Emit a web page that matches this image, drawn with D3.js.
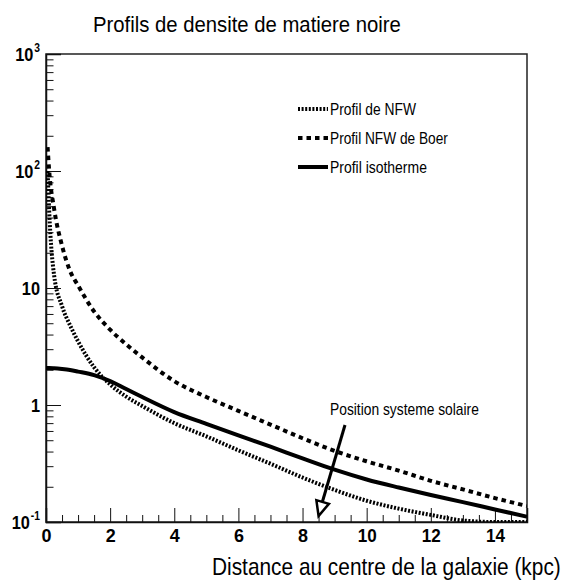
<!DOCTYPE html>
<html>
<head>
<meta charset="utf-8">
<script src="https://cdn.jsdelivr.net/npm/d3@7"></script>
<style>
	body { margin: 0; background: #fff; }
	svg { display: block; }
	text { font-family: "Liberation Sans", Arial, sans-serif; fill: #000; }
	.axis path, .axis line { stroke: #111; }
	.axis text, .ylab text { font-weight: bold; font-size: 19px; }
</style>
</head>
<body>
<svg id="chart"></svg>
<script>
// distance au centre (kpc)
var radius = [0, 0.05, 0.1, 0.25, 0.5, 0.75, 1, 1.5, 2, 2.5, 3, 4, 5, 6, 7, 8, 9, 10, 11, 12, 13, 14, 15];

// densites
var nfwDensity = [null, 100, 45, 13, 7, 4.8, 3.5, 2.1, 1.5, 1.18, 0.98, 0.7, 0.54, 0.41, 0.315, 0.24, 0.188, 0.152, 0.13, 0.115, 0.103, 0.1, 0.1];
var boerDensity = [null, 160, 100, 48, 23, 14, 10.5, 6.3, 4.4, 3.3, 2.55, 1.6, 1.17, 0.89, 0.68, 0.52, 0.405, 0.33, 0.275, 0.225, 0.19, 0.16, 0.137];
var isoDensity = [2.07, 2.07, 2.07, 2.06, 2.03, 1.99, 1.93, 1.8, 1.6, 1.37, 1.17, 0.87, 0.69, 0.55, 0.44, 0.35, 0.28, 0.231, 0.197, 0.17, 0.148, 0.128, 0.111];

var seriesNames = ["Profil de NFW", "Profil NFW de Boer", "Profil isotherme"];

var xMajorTicks = [0, 2, 4, 6, 8, 10, 12, 14];
var yMajorTicks = [0.1, 1, 10, 100, 1000];

var chartTitle = "Profils de densite de matiere noire";
var xTitle = "Distance au centre de la galaxie (kpc)";
var note = { text: "Position systeme solaire", r: 8.5 };

var width = 564, height = 583;
var margin = {top: 54, right: 37, bottom: 61, left: 46};

var svg = d3.select("#chart")
	.attr("width", width)
	.attr("height", height);

var x = d3.scaleLinear().domain([0, 15]).range([margin.left, width - margin.right]);
var y = d3.scaleLog().domain([0.1, 1000]).range([height - margin.bottom, margin.top]);

var styles = [
	{dash: "2,1.6", width: 4},
	{dash: "4.5,4", width: 4},
	{dash: null, width: 4}
];
var legendWidths = [86, 118, 97];
var series = [nfwDensity, boerDensity, isoDensity];

// narrow text: squeeze Liberation Sans horizontally to the measured width
function narrowText(sel, w) {
	var node = sel.node();
	var sx = w / node.getComputedTextLength();
	var tx = +sel.attr("x") || 0, ty = +sel.attr("y") || 0;
	sel.attr("x", 0).attr("y", 0)
		.attr("transform", "translate(" + tx + "," + ty + ") scale(" + sx + ",1)");
}

// Frame
svg.append("rect")
	.attr("x", x(0))
	.attr("y", y(1000))
	.attr("width", x(15) - x(0))
	.attr("height", y(0.1) - y(1000))
	.attr("fill", "none")
	.attr("stroke", "#222")
	.attr("stroke-width", 1.5);

// Minor ticks
var xMinor = d3.range(0.5, 15, 0.5).filter(function(d) { return d % 2 !== 0; });
svg.append("g")
	.attr("class", "axis")
	.attr("transform", "translate(0," + y(0.1) + ")")
	.call(d3.axisBottom(x).tickValues(xMinor).tickSize(-7).tickFormat(""))
	.call(function(g) { g.select(".domain").remove(); });

var yMinor = [];
[0.1, 1, 10, 100].forEach(function(p) {
	for (var k = 2; k < 10; k++) yMinor.push(p * k);
});
svg.append("g")
	.attr("class", "axis")
	.attr("transform", "translate(" + x(0) + ",0)")
	.call(d3.axisLeft(y).tickValues(yMinor).tickSize(-7.5).tickFormat(""))
	.call(function(g) { g.select(".domain").remove(); });

// Major ticks + labels
var xAxis = svg.append("g")
	.attr("class", "axis")
	.attr("transform", "translate(0," + y(0.1) + ")")
	.call(d3.axisBottom(x).tickValues(xMajorTicks).tickSize(-14).tickPadding(7).tickFormat(d3.format("d")))
	.call(function(g) { g.select(".domain").attr("stroke-width", 1.5); });
xAxis.selectAll(".tick text").each(function(d) {
	var t = d3.select(this);
	t.attr("transform", "scale(" + ((d >= 10 ? 19 : 10) / this.getComputedTextLength()) + ",1)");
});

svg.append("g")
	.attr("class", "axis")
	.attr("transform", "translate(" + x(0) + ",0)")
	.call(d3.axisLeft(y).tickValues(yMajorTicks).tickSize(-15).tickFormat(""))
	.call(function(g) {
		g.select(".domain").attr("stroke-width", 1.5);
		g.selectAll(".tick text").remove();
	});

// y labels: 10 with exponent, squeezed
var sqY = 0.86;
yMajorTicks.forEach(function(d) {
	var p = Math.round(Math.log10(d));
	var g = svg.append("g").attr("class", "ylab");
	var base = g.append("text").attr("y", 7).text(p === 0 ? "1" : "10");
	var w = base.node().getComputedTextLength();
	if (p !== 0 && p !== 1) {
		var ex = g.append("text")
			.attr("x", w + 1)
			.attr("y", -2)
			.style("font-size", "12px")
			.text(p);
		w += 1 + ex.node().getComputedTextLength();
	}
	g.attr("transform", "translate(" + (x(0) - 6 - w * sqY) + "," + y(d) + ") scale(" + sqY + ",1)");
});

// Curves
svg.append("clipPath").attr("id", "plot-clip")
	.append("rect")
	.attr("x", x(0))
	.attr("y", y(1000))
	.attr("width", x(15) - x(0))
	.attr("height", y(0.1) - y(1000));

var line = d3.line()
	.defined(function(d) { return d[1] != null; })
	.x(function(d) { return x(d[0]); })
	.y(function(d) { return y(d[1]); })
	.curve(d3.curveMonotoneX);

series.forEach(function(values, i) {
	svg.append("path")
		.datum(radius.map(function(r, j) { return [r, values[j]]; }))
		.attr("clip-path", "url(#plot-clip)")
		.attr("fill", "none")
		.attr("stroke", "#000")
		.attr("stroke-width", styles[i].width)
		.attr("stroke-dasharray", styles[i].dash)
		.attr("d", line);
});

// Legend
var legend = svg.append("g").attr("transform", "translate(298,109)");
seriesNames.forEach(function(name, i) {
	var row = legend.append("g").attr("transform", "translate(0," + (i * 29) + ")");
	row.append("line")
		.attr("x1", 0).attr("x2", 30)
		.attr("stroke", "#000")
		.attr("stroke-width", styles[i].width)
		.attr("stroke-dasharray", styles[i].dash);
	row.append("text")
		.attr("x", 32)
		.attr("y", 6)
		.style("font-size", "16px")
		.text(name)
		.call(narrowText, legendWidths[i]);
});

// Annotation
svg.append("text")
	.attr("x", 330)
	.attr("y", 415)
	.style("font-size", "16px")
	.text(note.text)
	.call(narrowText, 149);

var tip = [x(note.r), y(0.1) - 6];
var tail = [345, 425];
svg.append("line")
	.attr("x1", tail[0]).attr("y1", tail[1])
	.attr("x2", tip[0] + 2).attr("y2", tip[1] - 8)
	.attr("stroke", "#000")
	.attr("stroke-width", 3);

var ang = Math.atan2(tip[1] - tail[1], tip[0] - tail[0]);
var headLen = 16, spread = 0.42;
var head = [
	tip,
	[tip[0] - headLen * Math.cos(ang - spread), tip[1] - headLen * Math.sin(ang - spread)],
	[tip[0] - headLen * Math.cos(ang + spread), tip[1] - headLen * Math.sin(ang + spread)]
];
svg.append("path")
	.attr("d", "M" + head.join("L") + "Z")
	.attr("fill", "#fff")
	.attr("stroke", "#000")
	.attr("stroke-width", 2.5)
	.attr("stroke-linejoin", "miter");

// Titles
svg.append("text")
	.attr("x", 93)
	.attr("y", 32)
	.style("font-size", "22px")
	.text(chartTitle)
	.call(narrowText, 308);

svg.append("text")
	.attr("x", 212)
	.attr("y", 575)
	.style("font-size", "24px")
	.text(xTitle)
	.call(narrowText, 349);
</script>
</body>
</html>
